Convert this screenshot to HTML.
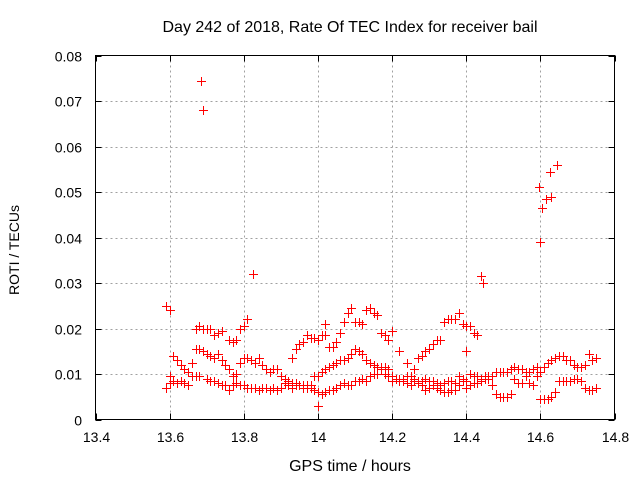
<!DOCTYPE html>
<html><head><meta charset="utf-8"><style>
html,body{margin:0;padding:0;background:#fff;}
svg{display:block;font-family:"Liberation Sans",sans-serif;}
</style></head><body>
<svg id="chart" width="640" height="480">
<rect x="0" y="0" width="640" height="480" fill="#fff"/>
<text x="350" y="32" text-anchor="middle" font-size="16" fill="#000">Day 242 of 2018, Rate Of TEC Index for receiver bail</text>
<g id="grid"></g>
<g id="ticks"></g>
<g id="points"></g>
<rect x="95.5" y="55.5" width="519" height="364" fill="none" stroke="#000" stroke-width="1"/>
<text x="350" y="471" text-anchor="middle" font-size="16">GPS time / hours</text>
<text transform="translate(19,250) rotate(-90)" text-anchor="middle" font-size="14">ROTI / TECUs</text>
</svg>
<script>
const xTicks=[13.4,13.6,13.8,14,14.2,14.4,14.6,14.8];
const xTickLabels=["13.4","13.6","13.8","14","14.2","14.4","14.6","14.8"];
const yTicks=[0,0.01,0.02,0.03,0.04,0.05,0.06,0.07,0.08];
const yTickLabels=["0","0.01","0.02","0.03","0.04","0.05","0.06","0.07","0.08"];
const lowerTrack=[[13.59,0.007],[13.6,0.008],[13.61,0.0085],[13.62,0.008],[13.63,0.0085],[13.64,0.008],[13.65,0.0075],[13.66,0.0095],[13.67,0.0095],[13.68,0.0095],[13.7,0.009],[13.71,0.0085],[13.72,0.0085],[13.73,0.008],[13.74,0.0075],[13.75,0.0075],[13.76,0.0065],[13.77,0.0075],[13.78,0.008],[13.79,0.0075],[13.8,0.0075],[13.81,0.007],[13.82,0.007],[13.83,0.007],[13.84,0.0065],[13.85,0.007],[13.86,0.007],[13.87,0.0065],[13.88,0.007],[13.89,0.0065],[13.9,0.007],[13.91,0.008],[13.92,0.0075],[13.93,0.007],[13.94,0.0075],[13.95,0.0075],[13.96,0.007],[13.97,0.0075],[13.98,0.007],[13.99,0.0065],[14,0.006],[14.01,0.0055],[14.02,0.006],[14.03,0.0065],[14.04,0.0065],[14.05,0.007],[14.06,0.0075],[14.07,0.008],[14.08,0.0075],[14.09,0.0075],[14.1,0.0085],[14.11,0.0085],[14.12,0.009],[14.13,0.0085],[14.14,0.0095],[14.15,0.01],[14.16,0.01],[14.17,0.011],[14.18,0.0115],[14.19,0.011],[14.2,0.0095],[14.21,0.009],[14.22,0.0085],[14.23,0.0085],[14.24,0.008],[14.25,0.0075],[14.26,0.0085],[14.27,0.008],[14.28,0.0075],[14.29,0.0065],[14.3,0.007],[14.31,0.0075],[14.32,0.007],[14.33,0.0065],[14.34,0.006],[14.35,0.006],[14.36,0.0065],[14.37,0.0065],[14.38,0.0075],[14.39,0.0085],[14.4,0.007],[14.41,0.0075],[14.42,0.008],[14.43,0.008],[14.44,0.0085],[14.45,0.009],[14.46,0.0095],[14.47,0.0095],[14.48,0.0105],[14.49,0.0105],[14.5,0.0105],[14.51,0.0105],[14.52,0.011],[14.53,0.0115],[14.54,0.011],[14.55,0.011],[14.56,0.0105],[14.57,0.0105],[14.58,0.011],[14.59,0.0115],[14.6,0.0105],[14.61,0.0115],[14.62,0.0125],[14.63,0.013],[14.64,0.0135],[14.65,0.014],[14.66,0.014],[14.67,0.013],[14.68,0.013],[14.69,0.012],[14.7,0.0115],[14.71,0.0115],[14.72,0.012],[14.73,0.0145],[14.74,0.013],[14.75,0.0135]];
const middleTrack=[[13.6,0.0095],[13.61,0.014],[13.62,0.013],[13.63,0.012],[13.64,0.011],[13.65,0.0105],[13.66,0.0125],[13.67,0.0155],[13.68,0.0155],[13.69,0.015],[13.7,0.0145],[13.71,0.014],[13.72,0.0135],[13.73,0.0145],[13.74,0.013],[13.75,0.012],[13.76,0.011],[13.77,0.0095],[13.78,0.01],[13.79,0.0125],[13.8,0.0135],[13.81,0.0135],[13.82,0.013],[13.83,0.0125],[13.84,0.0135],[13.85,0.012],[13.86,0.011],[13.87,0.0105],[13.88,0.011],[13.89,0.011],[13.9,0.0095],[13.91,0.009],[13.92,0.0085],[13.93,0.008],[13.94,0.008],[13.95,0.0075],[13.96,0.0075],[13.97,0.007],[13.98,0.0075],[13.99,0.0095],[14,0.0095],[14.01,0.0105],[14.02,0.011],[14.03,0.0115],[14.04,0.012],[14.05,0.0125],[14.06,0.013],[14.07,0.013],[14.08,0.0135],[14.09,0.0145],[14.1,0.0155],[14.11,0.015],[14.12,0.0145],[14.13,0.013],[14.14,0.0125],[14.15,0.012],[14.16,0.0115],[14.17,0.0115],[14.18,0.01],[14.19,0.0095],[14.2,0.0085],[14.21,0.009],[14.22,0.009],[14.23,0.009],[14.24,0.0095],[14.25,0.0095],[14.26,0.009],[14.27,0.0085],[14.28,0.0085],[14.29,0.009],[14.3,0.0085],[14.31,0.0085],[14.32,0.008],[14.33,0.0075],[14.34,0.008],[14.35,0.0085],[14.36,0.0085],[14.37,0.008],[14.38,0.0095],[14.39,0.009],[14.4,0.0085],[14.41,0.01],[14.42,0.0095],[14.43,0.0095],[14.44,0.009],[14.45,0.0095],[14.46,0.009],[14.47,0.0075],[14.48,0.0055],[14.49,0.005],[14.5,0.005],[14.51,0.005],[14.52,0.0055],[14.53,0.009],[14.54,0.008],[14.55,0.008],[14.56,0.0095],[14.57,0.008],[14.58,0.0075],[14.59,0.0095],[14.6,0.0045],[14.61,0.0045],[14.62,0.0045],[14.63,0.005],[14.64,0.006],[14.65,0.0085],[14.66,0.0085],[14.67,0.0085],[14.68,0.0085],[14.69,0.009],[14.7,0.009],[14.71,0.0085],[14.72,0.007],[14.73,0.0065],[14.74,0.0065],[14.75,0.007]];
const upperTrack=[[13.67,0.02],[13.68,0.0205],[13.69,0.02],[13.7,0.02],[13.71,0.02],[13.72,0.0185],[13.73,0.019],[13.74,0.0195],[13.76,0.0175],[13.77,0.017],[13.78,0.0175],[13.79,0.02],[13.8,0.0205],[13.81,0.022],[13.93,0.0135],[13.94,0.0155],[13.95,0.0165],[13.96,0.017],[13.97,0.0185],[13.98,0.018],[13.99,0.018],[14,0.0175],[14.01,0.0185],[14.02,0.0185],[14.03,0.016],[14.04,0.016],[14.05,0.017],[14.06,0.019],[14.07,0.0215],[14.08,0.0235],[14.09,0.0245],[14.1,0.0215],[14.11,0.0215],[14.12,0.021],[14.13,0.024],[14.14,0.0245],[14.15,0.0235],[14.16,0.023],[14.17,0.019],[14.18,0.0185],[14.19,0.0175],[14.2,0.0195],[14.22,0.015],[14.24,0.0125],[14.26,0.011],[14.27,0.0135],[14.28,0.014],[14.29,0.015],[14.3,0.0155],[14.31,0.0165],[14.32,0.0175],[14.33,0.0175],[14.34,0.0215],[14.35,0.022],[14.36,0.022],[14.37,0.022],[14.38,0.0235],[14.39,0.021],[14.4,0.0205],[14.41,0.0205],[14.42,0.019],[14.43,0.0185],[14.4,0.015]];
const outliers=[[13.59,0.025],[13.6,0.024],[13.685,0.0745],[13.69,0.068],[13.825,0.032],[14,0.003],[14.02,0.021],[14.44,0.0315],[14.445,0.03],[14.595,0.051],[14.6,0.039],[14.605,0.0465],[14.615,0.0485],[14.625,0.0545],[14.63,0.049],[14.645,0.056]];

const X0=95.5,X1=614.5,Y0=419.5,Y1=55.5;
function xs(v){return X0+(v-13.4)/(14.8-13.4)*(X1-X0);}
function ys(v){return Y0-(v-0)/(0.08)*(Y0-Y1);}
const NS="http://www.w3.org/2000/svg";
const grid=document.getElementById('grid'),ticks=document.getElementById('ticks'),pts=document.getElementById('points');
function mk(tag,attrs,parent){const e=document.createElementNS(NS,tag);for(const k in attrs)e.setAttribute(k,attrs[k]);parent.appendChild(e);return e;}
xTicks.forEach((t,i)=>{
  const x=Math.round(xs(t))+0.5;
  if(i>0&&i<xTicks.length-1){const g=mk('line',{x1:x,x2:x,y1:Y1,y2:Y0,stroke:'#a0a0a0','stroke-dasharray':'2,3'},grid);
  
  }
  const tk=mk('path',{d:`M${x},${Y0}v-6M${x},${Y1}v6`,stroke:'#000'},ticks);
  
  
  const l=mk('text',{x:x,y:442,'text-anchor':'middle','font-size':'14'},ticks);l.textContent=xTickLabels[i];
  
  
});
yTicks.forEach((t,i)=>{
  const y=Math.round(ys(t))+0.5;
  if(i>0&&i<yTicks.length-1){const g=mk('line',{x1:X0,x2:X1,y1:y,y2:y,stroke:'#a0a0a0','stroke-dasharray':'2,3'},grid);
  
  }
  const tk=mk('path',{d:`M${X0},${y}h6M${X1},${y}h-6`,stroke:'#000'},ticks);
  
  
  const l=mk('text',{x:82,y:y+5,'text-anchor':'end','font-size':'14'},ticks);l.textContent=yTickLabels[i];
  
  
});
[lowerTrack,middleTrack,upperTrack,outliers].forEach(arr=>arr.forEach(p=>{
  const x=Math.round(xs(p[0])),y=Math.round(ys(p[1]));
  const g=mk('g',{fill:'#ff0000'},pts);
  
  
  mk('rect',{x:x-4,y:y,width:9,height:1,fill:'#ff0000'},g);
  mk('rect',{x:x,y:y-4,width:1,height:9,fill:'#ff0000'},g);
}));
</script>
</body></html>
